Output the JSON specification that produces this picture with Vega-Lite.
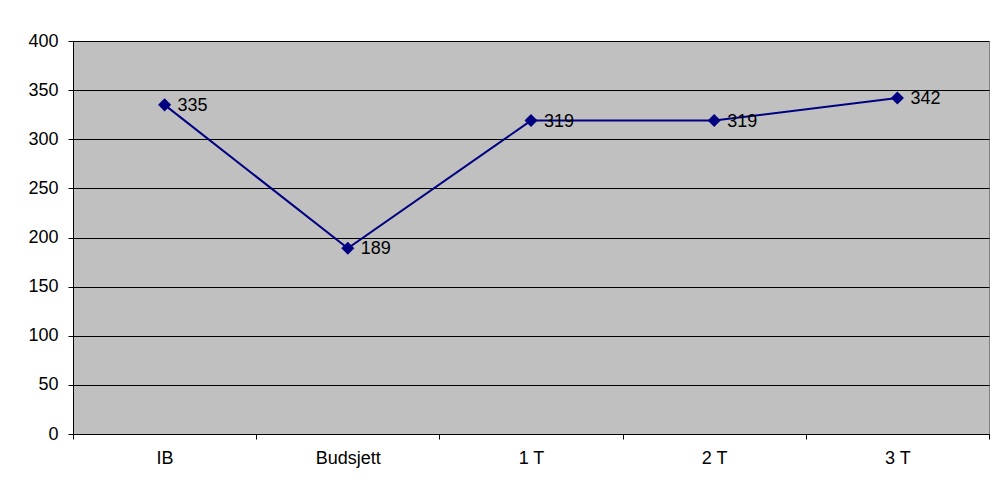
{
  "$schema": "https://vega.github.io/schema/vega-lite/v6.json",
  "width": 916,
  "height": 393,
  "autosize": "none",
  "padding": {"left": 73, "top": 41, "right": 2, "bottom": 53},
  "background": "white",
  "config": {
    "font": "Liberation Sans",
    "view": {"fill": "#C0C0C0", "stroke": "#808080", "strokeWidth": 1},
    "axis": {
      "labelFont": "Liberation Sans",
      "labelFontSize": 18,
      "labelColor": "black",
      "domainColor": "black",
      "tickColor": "black",
      "tickSize": 5
    }
  },
  "data": {
    "values": [
      {"period": "IB", "value": 335},
      {"period": "Budsjett", "value": 189},
      {"period": "1 T", "value": 319},
      {"period": "2 T", "value": 319},
      {"period": "3 T", "value": 342}
    ]
  },
  "encoding": {
    "x": {
      "field": "period",
      "type": "ordinal",
      "sort": null,
      "title": null,
      "scale": {"type": "band", "paddingInner": 0, "paddingOuter": 0},
      "axis": {"labelAngle": 0, "tickBand": "extent", "labelPadding": 10, "grid": false}
    },
    "y": {
      "field": "value",
      "type": "quantitative",
      "title": null,
      "scale": {"domain": [0, 400], "nice": false},
      "axis": {"values": [0, 50, 100, 150, 200, 250, 300, 350, 400], "grid": true, "gridColor": "black", "gridOpacity": 1, "labelPadding": 10}
    }
  },
  "layer": [
    {
      "mark": {"type": "line", "color": "#000080", "strokeWidth": 2}
    },
    {
      "mark": {"type": "point", "shape": "diamond", "filled": true, "color": "#000080", "size": 170, "opacity": 1}
    },
    {
      "mark": {"type": "text", "align": "left", "baseline": "middle", "dx": 13, "dy": 1, "fontSize": 18, "color": "black"},
      "encoding": {"text": {"field": "value", "type": "quantitative"}}
    }
  ]
}
